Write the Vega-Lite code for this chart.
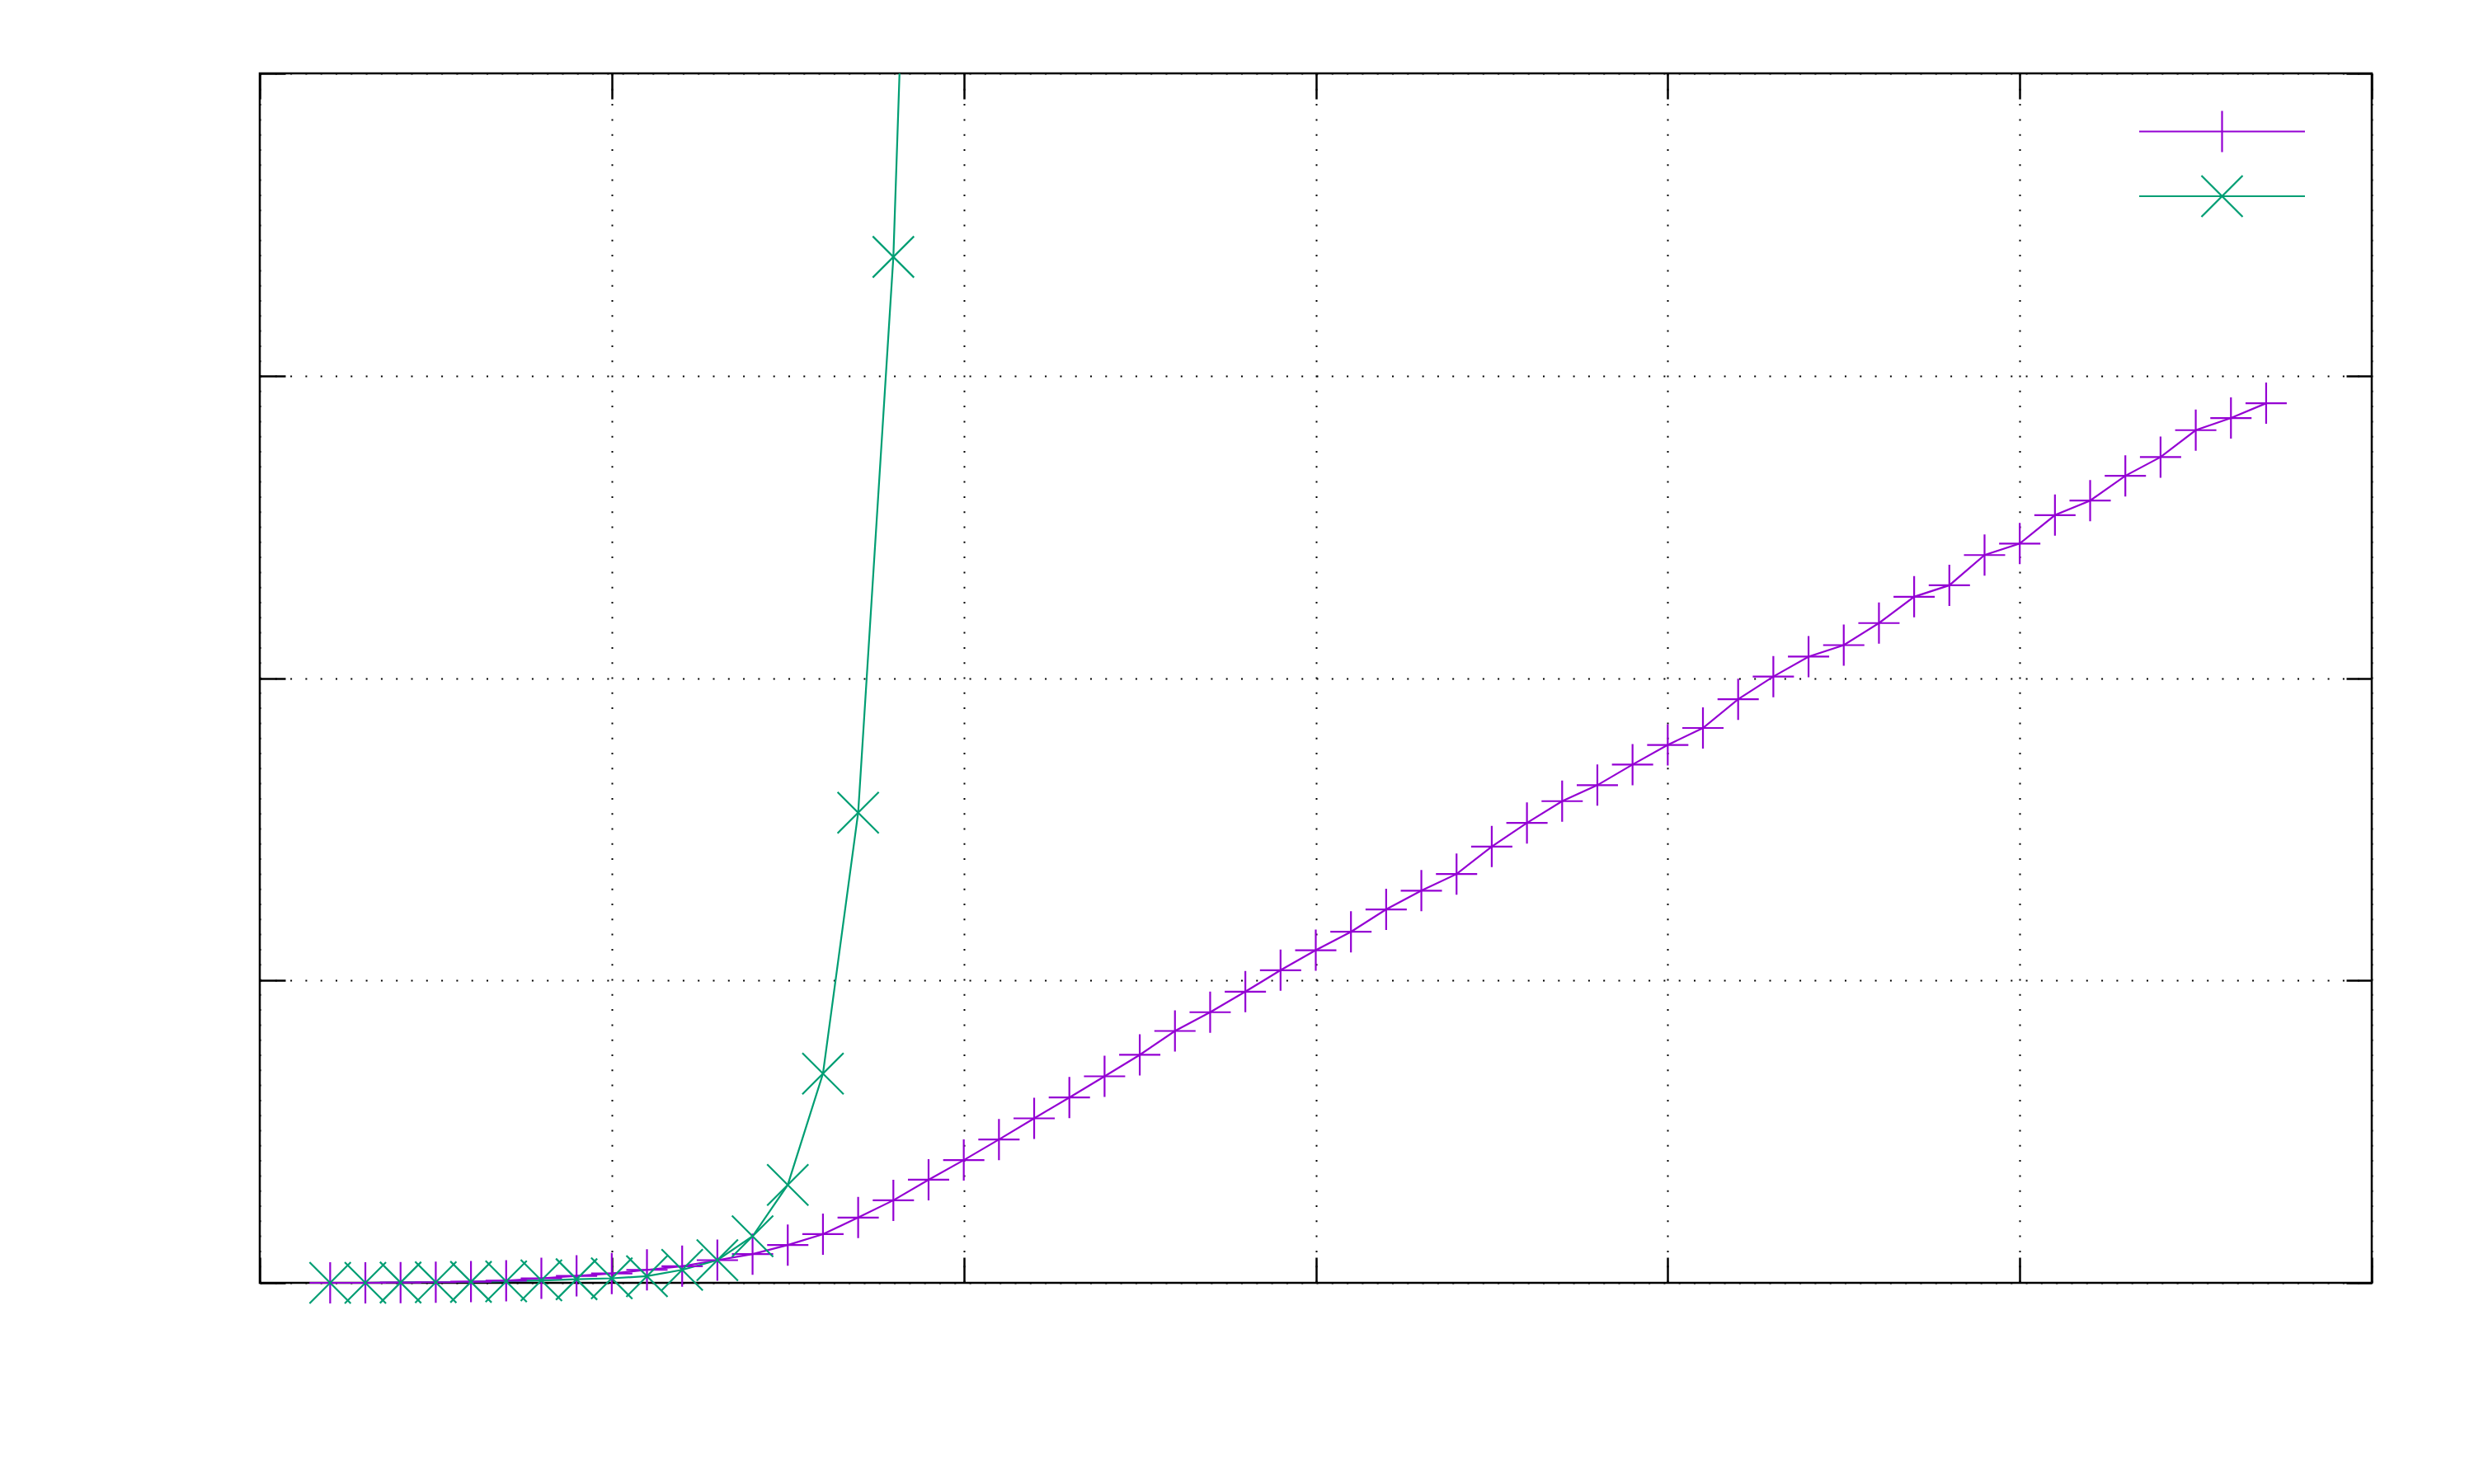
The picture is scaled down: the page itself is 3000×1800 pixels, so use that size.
{
  "$schema": "https://vega.github.io/schema/vega-lite/v6.json",
  "width": 2561,
  "height": 1467,
  "autosize": {"type": "none"},
  "padding": {"left": 315, "top": 89, "right": 124, "bottom": 244},
  "background": "white",
  "config": {
    "view": {"stroke": "black", "strokeWidth": 2.5},
    "axis": {"labels": false, "title": null, "domain": false, "tickColor": "black", "tickWidth": 2.5, "tickSize": -31}
  },
  "datasets": {
    "curves": [
      {"x": 2, "y": 0.000, "s": "s1"}, {"x": 3, "y": 0.000, "s": "s1"}, {"x": 4, "y": 0.001, "s": "s1"},
      {"x": 5, "y": 0.002, "s": "s1"}, {"x": 6, "y": 0.004, "s": "s1"}, {"x": 7, "y": 0.007, "s": "s1"},
      {"x": 8, "y": 0.015, "s": "s1"}, {"x": 9, "y": 0.023, "s": "s1"}, {"x": 10, "y": 0.031, "s": "s1"},
      {"x": 11, "y": 0.043, "s": "s1"}, {"x": 12, "y": 0.055, "s": "s1"}, {"x": 13, "y": 0.075, "s": "s1"},
      {"x": 14, "y": 0.095, "s": "s1"}, {"x": 15, "y": 0.125, "s": "s1"}, {"x": 16, "y": 0.161, "s": "s1"},
      {"x": 17, "y": 0.216, "s": "s1"}, {"x": 18, "y": 0.273, "s": "s1"}, {"x": 19, "y": 0.341, "s": "s1"},
      {"x": 20, "y": 0.406, "s": "s1"}, {"x": 21, "y": 0.474, "s": "s1"}, {"x": 22, "y": 0.544, "s": "s1"},
      {"x": 23, "y": 0.613, "s": "s1"}, {"x": 24, "y": 0.683, "s": "s1"}, {"x": 25, "y": 0.754, "s": "s1"},
      {"x": 26, "y": 0.833, "s": "s1"}, {"x": 27, "y": 0.895, "s": "s1"}, {"x": 28, "y": 0.963, "s": "s1"},
      {"x": 29, "y": 1.034, "s": "s1"}, {"x": 30, "y": 1.100, "s": "s1"}, {"x": 31, "y": 1.161, "s": "s1"},
      {"x": 32, "y": 1.235, "s": "s1"}, {"x": 33, "y": 1.297, "s": "s1"}, {"x": 34, "y": 1.352, "s": "s1"},
      {"x": 35, "y": 1.443, "s": "s1"}, {"x": 36, "y": 1.521, "s": "s1"}, {"x": 37, "y": 1.593, "s": "s1"},
      {"x": 38, "y": 1.646, "s": "s1"}, {"x": 39, "y": 1.714, "s": "s1"}, {"x": 40, "y": 1.779, "s": "s1"},
      {"x": 41, "y": 1.835, "s": "s1"}, {"x": 42, "y": 1.930, "s": "s1"}, {"x": 43, "y": 2.005, "s": "s1"},
      {"x": 44, "y": 2.071, "s": "s1"}, {"x": 45, "y": 2.109, "s": "s1"}, {"x": 46, "y": 2.182, "s": "s1"},
      {"x": 47, "y": 2.269, "s": "s1"}, {"x": 48, "y": 2.307, "s": "s1"}, {"x": 49, "y": 2.407, "s": "s1"},
      {"x": 50, "y": 2.445, "s": "s1"}, {"x": 51, "y": 2.539, "s": "s1"}, {"x": 52, "y": 2.587, "s": "s1"},
      {"x": 53, "y": 2.669, "s": "s1"}, {"x": 54, "y": 2.731, "s": "s1"}, {"x": 55, "y": 2.820, "s": "s1"},
      {"x": 56, "y": 2.860, "s": "s1"}, {"x": 57, "y": 2.909, "s": "s1"},
      {"x": 2, "y": 0.000, "s": "s2"}, {"x": 3, "y": 0.000, "s": "s2"}, {"x": 4, "y": 0.001, "s": "s2"},
      {"x": 5, "y": 0.002, "s": "s2"}, {"x": 6, "y": 0.003, "s": "s2"}, {"x": 7, "y": 0.005, "s": "s2"},
      {"x": 8, "y": 0.008, "s": "s2"}, {"x": 9, "y": 0.012, "s": "s2"}, {"x": 10, "y": 0.015, "s": "s2"},
      {"x": 11, "y": 0.022, "s": "s2"}, {"x": 12, "y": 0.043, "s": "s2"}, {"x": 13, "y": 0.075, "s": "s2"},
      {"x": 14, "y": 0.154, "s": "s2"}, {"x": 15, "y": 0.324, "s": "s2"}, {"x": 16, "y": 0.692, "s": "s2"},
      {"x": 17, "y": 1.555, "s": "s2"}, {"x": 18, "y": 3.393, "s": "s2"}, {"x": 19, "y": 6.86, "s": "s2"}
    ]
  },
  "data": {"name": "curves"},
  "resolve": {"axis": {"x": "independent", "y": "independent"}},
  "layer": [
    {
      "mark": {"type": "line", "strokeWidth": 2.2, "clip": true},
      "encoding": {
        "x": {"field": "x", "type": "quantitative",
              "scale": {"domain": [0, 60], "nice": false, "zero": false},
              "axis": {"orient": "bottom", "values": [0, 10, 20, 30, 40, 50, 60], "grid": true,
                       "gridColor": "black", "gridDash": [2, 16.3], "gridWidth": 2, "gridOpacity": 1}},
        "y": {"field": "y", "type": "quantitative",
              "scale": {"domain": [0, 4], "nice": false},
              "axis": {"orient": "left", "values": [0, 1, 2, 3, 4], "grid": true,
                       "gridColor": "black", "gridDash": [2, 16.3], "gridWidth": 2, "gridOpacity": 1}},
        "color": {"field": "s", "type": "nominal",
                  "scale": {"domain": ["s1", "s2"], "range": ["#9400D3", "#009E73"]},
                  "legend": {
                    "orient": "none", "legendX": 2353, "legendY": 44, "padding": 0,
                    "rowPadding": 19.5, "title": null, "labelExpr": "''", "labelFontSize": 10,
                    "symbolSize": 2500, "symbolStrokeWidth": 2.2,
                    "symbolType": {"expr": "datum.value === 's1' ? 'M-4.02,0H4.02M0,-1V1' : 'M-4.02,0H4.02M-1,-1L1,1M-1,1L1,-1'"}
                  }}
      }
    },
    {
      "transform": [{"filter": "datum.s === 's1'"}],
      "mark": {"type": "point", "filled": false, "size": 2500, "strokeWidth": 2.2, "opacity": 1, "shape": "M-1,0H1M0,-1V1"},
      "encoding": {
        "x": {"field": "x", "type": "quantitative",
              "axis": {"orient": "top", "values": [0, 10, 20, 30, 40, 50, 60], "grid": false}},
        "y": {"field": "y", "type": "quantitative",
              "axis": {"orient": "right", "values": [0, 1, 2, 3, 4], "grid": false}},
        "color": {"field": "s", "type": "nominal", "legend": null}
      }
    },
    {
      "transform": [{"filter": "datum.s === 's2' && datum.y <= 4"}],
      "mark": {"type": "point", "filled": false, "size": 2500, "strokeWidth": 2.2, "opacity": 1, "shape": "M-1,-1L1,1M-1,1L1,-1"},
      "encoding": {
        "x": {"field": "x", "type": "quantitative", "axis": null},
        "y": {"field": "y", "type": "quantitative", "axis": null},
        "color": {"field": "s", "type": "nominal", "legend": null}
      }
    }
  ]
}
